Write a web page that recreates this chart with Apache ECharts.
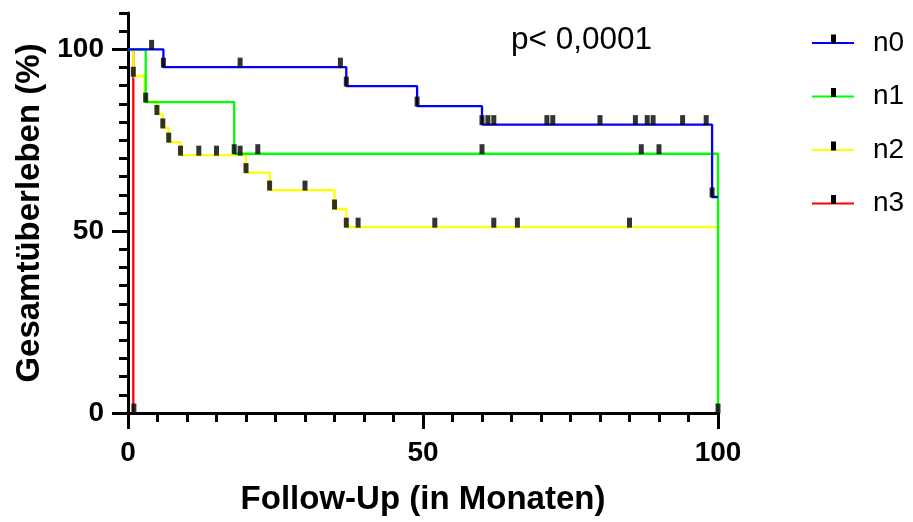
<!DOCTYPE html>
<html>
<head>
<meta charset="utf-8">
<script src="https://cdn.jsdelivr.net/npm/echarts@6/dist/echarts.min.js"></script>
<style>
  html, body { margin: 0; background: #fff; }
  #chart { width: 913px; height: 522px; }
</style>
</head>
<body>
<div id="chart"></div>
<script>
// Kaplan-Meier steps: time (months) and survival (%) after each step
const n0Times = [0, 6, 37, 49, 60, 99, 100];
const n0Surv = [100, 95.1, 89.9, 84.4, 79.3, 59.4, 59.4];
const n1Times = [0, 3, 18, 100];
const n1Surv = [100, 85.5, 71.3, 0];
const n2Times = [0, 0.9, 2.8, 4.9, 5.9, 6.9, 8.9, 20, 24, 35, 37, 100];
const n2Surv = [100, 92.6, 85.7, 82.1, 78.4, 74.5, 70.9, 66.1, 61.3, 56.1, 51.1, 51.1];
const n3Times = [0, 0.9];
const n3Surv = [100, 0];

// censor tick times (months)
const n0Censored = [4, 6, 19, 36, 37, 49, 60, 61, 62, 71, 72, 80, 86, 88, 89, 94, 98, 99];
const n1Censored = [3, 18, 22, 60, 87, 90, 100];
const n2Censored = [0.9, 4.9, 5.9, 6.9, 8.9, 12, 15, 19, 20, 24, 30, 35, 37, 39, 52, 62, 66, 85];
const n3Censored = [1];

const groupNames = ['n0', 'n1', 'n2', 'n3'];
const groupColors = ['#0000ff', '#00ff00', '#ffff00', '#ff0000'];

const xTicks = [0, 50, 100];
const yTicks = [0, 50, 100];

const font = 'Liberation Sans, Arial, sans-serif';

const groups = [
  { times: n0Times, surv: n0Surv, cens: n0Censored },
  { times: n1Times, surv: n1Surv, cens: n1Censored },
  { times: n2Times, surv: n2Surv, cens: n2Censored },
  { times: n3Times, surv: n3Surv, cens: n3Censored }
];

// survival level of a curve at time t (value after the last step at or before t)
const levelAt = (g, t) => {
  let v = g.surv[0];
  g.times.forEach((s, i) => { if (s <= t) v = g.surv[i]; });
  return v;
};

const lineSeries = [];
const censorSeries = [];
// draw red first, blue last so blue sits on top
[3, 2, 1, 0].forEach((i, order) => {
  const g = groups[i];
  lineSeries.push({
    name: groupNames[i],
    type: 'line',
    step: 'end',
    showSymbol: false,
    z: 2 + order,
    itemStyle: { color: groupColors[i] },
    lineStyle: { color: groupColors[i], width: 2.3 },
    data: g.times.map((t, k) => [t, g.surv[k]])
  });
  censorSeries.push({
    name: groupNames[i],
    type: 'scatter',
    symbol: 'rect',
    symbolSize: [5, 10],
    symbolOffset: [0, -4.5],
    z: 10,
    itemStyle: { color: '#000' },
    data: g.cens.map(t => [t, levelAt(g, t)])
  });
});

const chart = echarts.init(document.getElementById('chart'));

const tickStyle = { color: '#000', width: 3 };
const legendText = { fontFamily: font, fontSize: 28, color: '#000', lineHeight: 30, padding: [0, 0, 0, 14] };

chart.setOption({
  animation: false,
  title: {
    text: 'p< 0,0001',
    left: 511,
    top: 24,
    padding: 0,
    textStyle: { fontFamily: font, fontSize: 31.5, fontWeight: 'normal', color: '#000' }
  },
  legend: [
    {
      data: groupNames,
      orient: 'vertical',
      left: 807,
      top: 23,
      icon: 'rect',
      itemWidth: 42,
      itemHeight: 2,
      itemGap: 23.5,
      selectedMode: false,
      textStyle: legendText
    },
    {
      data: groupNames,
      orient: 'vertical',
      left: 826,
      top: 19,
      icon: 'rect',
      itemWidth: 5,
      itemHeight: 9,
      itemGap: 23.5,
      selectedMode: false,
      itemStyle: { color: '#000' },
      textStyle: Object.assign({}, legendText, { color: 'rgba(0,0,0,0)' })
    }
  ],
  grid: { left: 128, right: 195, top: 13, bottom: 109 },
  xAxis: {
    type: 'value',
    min: 0,
    max: 100,
    interval: 50,
    name: 'Follow-Up (in Monaten)',
    nameLocation: 'middle',
    nameGap: 70,
    nameTextStyle: { fontFamily: font, fontSize: 33, fontWeight: 'bold', color: '#000' },
    axisLine: { lineStyle: tickStyle },
    axisTick: { length: 16, lineStyle: tickStyle },
    minorTick: { show: true, splitNumber: 10, length: 9, lineStyle: tickStyle },
    splitLine: { show: false },
    minorSplitLine: { show: false },
    axisLabel: {
      customValues: xTicks,
      margin: 26,
      fontFamily: font, fontSize: 28, fontWeight: 'bold', color: '#000'
    }
  },
  yAxis: [
    {
      type: 'value',
      min: 0,
      max: 110,
      interval: 50,
      name: 'Gesamtüberleben (%)',
      nameLocation: 'middle',
      nameGap: 80,
      nameTextStyle: { fontFamily: font, fontSize: 33, fontWeight: 'bold', color: '#000' },
      axisLine: { show: true, lineStyle: tickStyle },
      axisTick: { show: true, customValues: yTicks, length: 16, lineStyle: tickStyle },
      splitLine: { show: false },
      axisLabel: {
        customValues: yTicks,
        margin: 24,
        fontFamily: font, fontSize: 28, fontWeight: 'bold', color: '#000'
      }
    },
    {
      // minor ticks every 5 %
      type: 'value',
      min: 0,
      max: 110,
      interval: 5,
      position: 'left',
      offset: 0,
      axisLine: { show: false },
      axisTick: { show: true, length: 9, lineStyle: tickStyle },
      axisLabel: { show: false },
      splitLine: { show: false }
    }
  ],
  series: lineSeries.concat(censorSeries)
});
</script>
</body>
</html>
